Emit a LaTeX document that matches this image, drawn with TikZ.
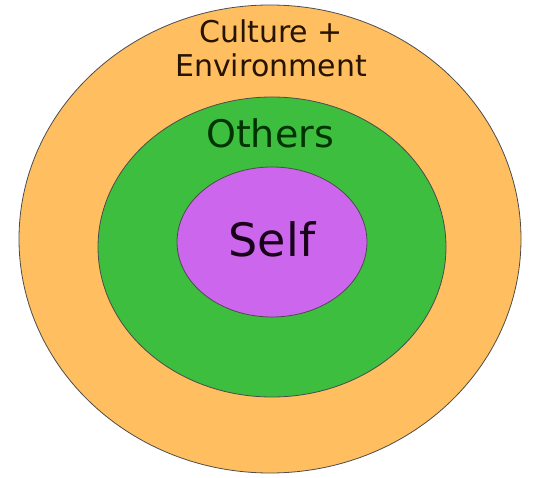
\documentclass[tikz,border=0pt]{standalone}
\usepackage{fontspec}
\setmainfont{DejaVu Sans}
\usetikzlibrary{shapes.geometric}
\definecolor{ringorange}{HTML}{FFBF60}
\definecolor{ringgreen}{HTML}{3EBE3E}
\definecolor{ringpurple}{HTML}{CC66EC}
\tikzset{
  ring/.style={
    ellipse,
    draw=black!70,
    line width=0.8pt,
    fill=#1,
    inner sep=0pt,
  },
  ring/.default=ringorange,
  ringlabel/.style={
    align=center,
    inner sep=0pt,
    text=#1,
  },
  ringlabel/.default=black
}
\begin{document}
\begin{tikzpicture}[x=1pt,y=-1pt]
\useasboundingbox (0,0) rectangle (533,478);
% the three circles
\node[ring=ringorange, minimum width=502pt, minimum height=468pt] (outer) at (270,239) {};
\node[ring=ringgreen,  minimum width=348pt, minimum height=300pt] (middle) at (272,247) {};
\node[ring=ringpurple, minimum width=190pt, minimum height=150pt] (inner) at (272,242) {};
% labels
\node[ringlabel=black!85!orange, font=\fontsize{30}{34}\selectfont] (culture) at (271,48) {Culture +\\Environment};
\node[ringlabel=black!80!green, font=\fontsize{38}{44}\selectfont] (others) at (270,133) {Others};
\node[ringlabel=black!80!violet, font=\fontsize{46}{52}\selectfont] (self) at (272,239) {Self};
\end{tikzpicture}
\end{document}
